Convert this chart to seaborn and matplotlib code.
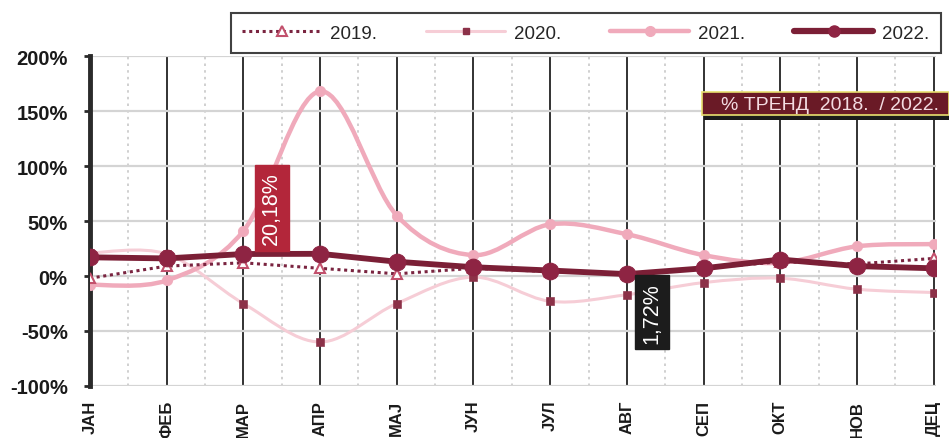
import matplotlib
matplotlib.use("Agg")
import matplotlib.pyplot as plt
import seaborn as sns
import numpy as np
import pandas as pd
from matplotlib.path import Path
from matplotlib.patches import PathPatch, Rectangle
from matplotlib.lines import Line2D
from matplotlib.ticker import MultipleLocator, FuncFormatter

months = ['ЈАН', 'ФЕБ', 'МАР', 'АПР', 'МАЈ', 'ЈУН', 'ЈУЛ', 'АВГ', 'СЕП', 'ОКТ', 'НОВ', 'ДЕЦ']
y2019 = [-2, 9, 12, 7, 2, 7, 4, 2, 7, 13, 11, 16]
y2020 = [21, 20, -25, -60, -25, -1, -23, -17, -6, -2, -12, -15]
y2021 = [-8, -4, 41, 168, 55, 19, 47, 38, 19, 12, 27, 29]
y2022 = [17, 16, 20, 20.18, 13, 8, 5, 1.72, 7, 15, 9, 7]
series_names = ['2019.', '2020.', '2021.', '2022.']
label_apr = '20,18%'
label_avg = '1,72%'
trend_title = '% ТРЕНД  2018.  / 2022.'

sns.set_theme(style="white")
plt.rcParams['font.family'] = ['Liberation Sans', 'DejaVu Sans']

df = pd.DataFrame({'m': np.arange(len(months)), '2019.': y2019, '2020.': y2020,
                   '2021.': y2021, '2022.': y2022})

fig = plt.figure(figsize=(9.49, 4.39), dpi=100)
ax = fig.add_axes([0.0948, 0.1185, 0.8915, 0.7515])

c19 = '#7a2440'
c19m = '#c2506c'
c20 = '#f6cdd6'
c20m = '#8c3148'
c21 = '#f0aabb'
c22 = '#7b1f36'
c22m = '#8e2443'


def smooth_patch(xs, ys, color, lw, z):
    xs = np.asarray(xs, float)
    ys = np.asarray(ys, float)
    pts = np.column_stack([xs, ys])
    n = len(pts)
    verts = [pts[0]]
    codes = [Path.MOVETO]
    for i in range(n - 1):
        p0 = pts[i - 1] if i > 0 else pts[i]
        p1 = pts[i]
        p2 = pts[i + 1]
        p3 = pts[i + 2] if i + 2 < n else pts[i + 1]
        c1 = p1 + (p2 - p0) / 6.0
        c2 = p2 - (p3 - p1) / 6.0
        verts += [c1, c2, p2]
        codes += [Path.CURVE4] * 3
    patch = PathPatch(Path(verts, codes), fill=False, edgecolor=color, lw=lw,
                      zorder=z, capstyle='round', joinstyle='round')
    ax.add_patch(patch)


# 2020 smooth thin line + square markers
smooth_patch(df['m'], df['2020.'], c20, 2.2, 3)
sns.scatterplot(data=df, x='m', y='2020.', marker='s', s=30, color=c20m,
                edgecolor=c20m, zorder=4, ax=ax, legend=False)

# 2021 smooth pink line + circle markers
smooth_patch(df['m'], df['2021.'], c21, 3.2, 3)
sns.scatterplot(data=df, x='m', y='2021.', marker='o', s=55, color=c21,
                edgecolor=c21, zorder=4, ax=ax, legend=False)

# 2019 dotted + triangles
sns.lineplot(data=df, x='m', y='2019.', color=c19, lw=2.2, ax=ax, zorder=5,
             linestyle=(0, (1, 1.2)), marker='^', markersize=7,
             markerfacecolor='white', markeredgecolor=c19m, markeredgewidth=1.5)

# 2022 thick + circles
sns.lineplot(data=df, x='m', y='2022.', color=c22, lw=4.2, ax=ax, zorder=6,
             marker='o', markersize=12, markerfacecolor=c22m, markeredgecolor=c22m)

ax.set_xlim(0, 11.03)
ax.set_ylim(-100, 200)
ax.yaxis.set_major_locator(MultipleLocator(50))
ax.yaxis.set_major_formatter(FuncFormatter(lambda v, p: f'{int(v)}%'))
ax.set_xticks(range(len(months)))
ax.set_xticklabels(months, rotation=90, fontsize=12, fontweight='bold', color='#1a1a1a')
ax.set_xticks(np.arange(0.5, 11, 1), minor=True)
for lab in ax.get_yticklabels():
    lab.set_fontsize(14.5)
    lab.set_fontweight('bold')
    lab.set_color('#1a1a1a')
ax.set_xlabel('')
ax.set_ylabel('')

ax.grid(axis='y', color='#d4d4d4', lw=1.6, zorder=0)
ax.grid(axis='x', which='major', color='#222222', lw=1.3, zorder=1)
ax.grid(axis='x', which='minor', color='#c8c8c8', lw=1.2, linestyle=(0, (1.5, 2.5)), zorder=0)
ax.set_axisbelow(True)

for s in ['top', 'right', 'bottom']:
    ax.spines[s].set_visible(False)
ax.spines['left'].set_color('#2a2a2a')
ax.spines['left'].set_linewidth(3.5)
ax.tick_params(axis='y', which='major', left=True, length=4, width=2, color='#2a2a2a', pad=12)
ax.tick_params(axis='x', which='both', bottom=False, pad=4)

# annotation boxes
ax.text(2.37, 62, label_apr, rotation=90, ha='center', va='center', color='white',
        fontsize=15.5, zorder=10,
        bbox=dict(boxstyle='square,pad=0.3', facecolor='#b3263a', edgecolor='#b3263a'))
ax.text(7.33, -33, label_avg, rotation=90, ha='center', va='center', color='white',
        fontsize=15.5, zorder=10,
        bbox=dict(boxstyle='square,pad=0.3', facecolor='#1c1c1c', edgecolor='#1c1c1c'))

# trend box with shadow
fig.patches.append(Rectangle((704 / 949, 1 - 121 / 439), 245 / 949, 24 / 439,
                             transform=fig.transFigure, facecolor='#1a1a1a',
                             edgecolor='none', zorder=9))
fig.patches.append(Rectangle((702 / 949, 1 - 116 / 439), 247 / 949, 23 / 439,
                             transform=fig.transFigure, facecolor='#6a1a26',
                             edgecolor='#e8e070', lw=1.2, zorder=10))
fig.text(830 / 949, 1 - 105 / 439, trend_title, ha='center', va='center',
         color='#f4dce2', fontsize=14, zorder=11)

# legend
handles = [
    Line2D([], [], color=c19, lw=2.2, linestyle=(0, (1, 1.2)), marker='^', markersize=7,
           markerfacecolor='white', markeredgecolor=c19m, markeredgewidth=1.5),
    Line2D([], [], color=c20, lw=2.2, marker='s', markersize=5, markerfacecolor=c20m,
           markeredgecolor=c20m),
    Line2D([], [], color=c21, lw=3.2, marker='o', markersize=7, markerfacecolor=c21,
           markeredgecolor=c21),
    Line2D([], [], color=c22, lw=4.5, marker='o', markersize=8, markerfacecolor=c22m,
           markeredgecolor=c22m),
]
leg = fig.legend(handles, series_names, loc='center', ncol=4,
                 bbox_to_anchor=(586 / 949, 1 - 34 / 439), frameon=True, fancybox=False,
                 edgecolor='#111111', handlelength=4.2, columnspacing=2.6,
                 handletextpad=0.5, fontsize=13.5, borderpad=0.6)
leg.get_frame().set_linewidth(1.5)
leg.set_zorder(12)

fig.savefig('out.png', dpi=100, facecolor='white')
